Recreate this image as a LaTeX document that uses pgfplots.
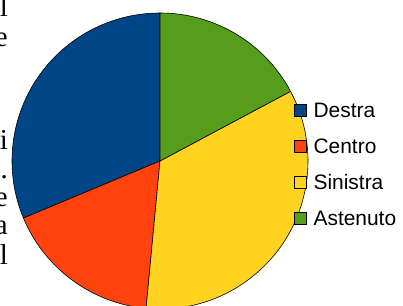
\documentclass[border=0pt]{standalone}
\usepackage{fontspec}
\setmainfont{Liberation Sans}
\newfontfamily\serifletters{Liberation Serif}
\usepackage{pgfplots}
\usepackage{pgfplotstable}
\pgfplotsset{compat=1.18}
\definecolor{cDestra}{HTML}{004586}
\definecolor{cCentro}{HTML}{FF420E}
\definecolor{cSinistra}{HTML}{FFD320}
\definecolor{cAstenuto}{HTML}{579D1C}

\pgfplotstableread{
label value
Destra 31.3
Centro 17.2
Sinistra 34.3
Astenuto 17.2
}\piedata

\begin{document}
\begin{tikzpicture}
\useasboundingbox (0,0) rectangle (403bp,306bp);
\clip (0,0) rectangle (403bp,306bp);
% cumulative angles, counter-clockwise from 12 o'clock
\pgfmathsetmacro{\angA}{90}
\pgfplotstablegetelem{0}{value}\of\piedata
\pgfmathsetmacro{\angB}{\angA+3.6*\pgfplotsretval}
\pgfplotstablegetelem{1}{value}\of\piedata
\pgfmathsetmacro{\angC}{\angB+3.6*\pgfplotsretval}
\pgfplotstablegetelem{2}{value}\of\piedata
\pgfmathsetmacro{\angD}{\angC+3.6*\pgfplotsretval}
\pgfplotstablegetelem{3}{value}\of\piedata
\pgfmathsetmacro{\angE}{\angD+3.6*\pgfplotsretval}
% stray letters of the surrounding text
\begin{scope}[every node/.style={anchor=base east, inner sep=0pt, font=\serifletters\fontsize{29}{29}\selectfont}]
\node at (8bp,289bp) {l};
\node at (8bp,259bp) {e};
\node at (8bp,156bp) {i};
\node at (8bp,127bp) {.};
\node at (8bp,99bp) {e};
\node at (8bp,71bp) {a};
\node at (8bp,41bp) {l};
\end{scope}
\begin{axis}[
  at={(160bp,145bp)}, anchor=origin,
  x=148bp, y=148bp,
  xmin=-1, xmax=1, ymin=-1, ymax=1,
  hide axis, clip=false,
  legend cell align=left,
  legend image code/.code={\draw[#1, line width=0.6bp] (0bp,-6bp) rectangle (12bp,6bp);},
  legend style={at={(axis cs:0.9054,-0.0203)}, anchor=west, draw=none, fill=none,
    inner sep=0pt, outer sep=0pt, row sep=21bp, column sep=7bp,
    font=\fontsize{21}{24}\selectfont,
    nodes={inner sep=0pt, text height=15bp, text depth=0pt}},
]
\fill[cDestra, draw=black, line width=0.6bp] (axis cs:0,0) -- (axis cs:{cos(\angA)},{sin(\angA)}) arc[start angle=\angA, end angle=\angB, radius=148bp] -- cycle;
\fill[cCentro, draw=black, line width=0.6bp] (axis cs:0,0) -- (axis cs:{cos(\angB)},{sin(\angB)}) arc[start angle=\angB, end angle=\angC, radius=148bp] -- cycle;
\fill[cSinistra, draw=black, line width=0.6bp] (axis cs:0,0) -- (axis cs:{cos(\angC)},{sin(\angC)}) arc[start angle=\angC, end angle=\angD, radius=148bp] -- cycle;
\fill[cAstenuto, draw=black, line width=0.6bp] (axis cs:0,0) -- (axis cs:{cos(\angD)},{sin(\angD)}) arc[start angle=\angD, end angle=\angE, radius=148bp] -- cycle;
\addlegendimage{fill=cDestra, draw=black}
\addlegendentry{Destra}
\addlegendimage{fill=cCentro, draw=black}
\addlegendentry{Centro}
\addlegendimage{fill=cSinistra, draw=black}
\addlegendentry{Sinistra}
\addlegendimage{fill=cAstenuto, draw=black}
\addlegendentry{Astenuto}
\end{axis}
\end{tikzpicture}
\end{document}
